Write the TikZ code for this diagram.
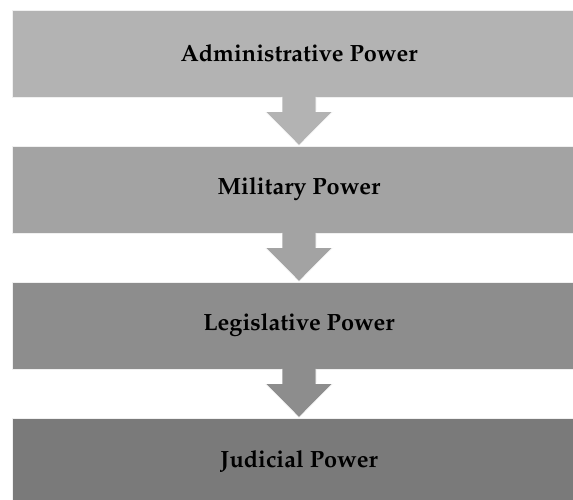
\documentclass[tikz,border=0pt]{standalone}
\usepackage[T1]{fontenc}
\usepackage{mathpazo}
\usetikzlibrary{calc}
\definecolor{cA}{HTML}{B3B3B3}
\definecolor{cB}{HTML}{A3A3A3}
\definecolor{cC}{HTML}{8D8D8D}
\definecolor{cD}{HTML}{7A7A7A}
\tikzset{
  box/.style={rectangle, draw=white!94!black, line width=0.8pt, minimum width=574pt, minimum height=87pt, inner sep=0pt, font=\fontsize{23.5}{26}\selectfont\bfseries, text=black},
  downarrow/.style={draw=white, line width=0.8pt, line join=miter}
}
\begin{document}
\begin{tikzpicture}[x=1pt,y=1pt]
\useasboundingbox (0,0) rectangle (573,500);
\fill[white] (0,0) rectangle (573,500);
\node[box, fill=cA] (b1) at (299,446.5) {Administrative Power};
\node[box, fill=cB] (b2) at (299,310.5) {Military Power};
\node[box, fill=cC] (b3) at (299,174.5) {Legislative Power};
\node[box, fill=cD] (b4) at (299,38.5) {Judicial Power};
\foreach \a/\b/\c in {b1/b2/cA, b2/b3/cB, b3/b4/cC}{
  \draw[downarrow, fill=\c] ($(\a.south)+(-17,0.4)$) -- ($(\a.south)+(-17,-14)$) -- ($(\a.south)+(-34,-14)$)
    -- (\b.north) -- ($(\a.south)+(34,-14)$) -- ($(\a.south)+(17,-14)$) -- ($(\a.south)+(17,0.4)$);
}
\end{tikzpicture}
\end{document}
